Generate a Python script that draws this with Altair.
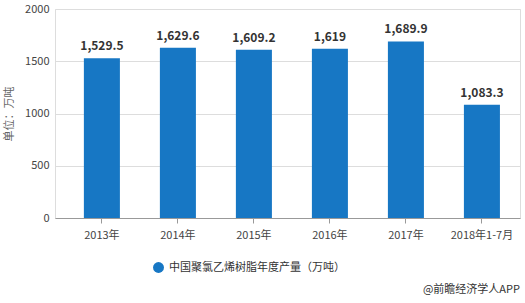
import altair as alt
import pandas as pd

categories = ["2013年", "2014年", "2015年", "2016年", "2017年", "2018年1-7月"]
values = [1529.5, 1629.6, 1609.2, 1619, 1689.9, 1083.3]
labels = ["1,529.5", "1,629.6", "1,609.2", "1,619", "1,689.9", "1,083.3"]
series_name = "中国聚氯乙烯树脂年度产量（万吨）"
source_text = "@前瞻经济学人APP"

df = pd.DataFrame({"cat": categories, "val": values, "lab": labels, "series": series_name})

FONT = "Noto Sans CJK SC"

base = alt.Chart(df)

xscale = alt.Scale(paddingInner=0.526, paddingOuter=0.322, align=0.59)

bars = base.mark_bar(color="#1777C4").encode(
    x=alt.X("cat:N", sort=categories, title=None, scale=xscale,
            axis=alt.Axis(labelAngle=0, labelColor="#444444", labelFontSize=11, labelFont=FONT,
                          domainColor="#999999", tickColor="#999999", tickSize=5, labelPadding=6)),
    y=alt.Y("val:Q", scale=alt.Scale(domain=[0, 2000]), title="单位：万吨",
            axis=alt.Axis(values=[0, 500, 1000, 1500, 2000], format="d", domain=False, ticks=False,
                          gridColor="#dddddd", labelColor="#444444", labelFontSize=11, labelFont=FONT,
                          titleColor="#666666", titleFontSize=11, titleFont=FONT, titleFontWeight="normal",
                          labelPadding=6, titlePadding=10)),
    color=alt.Color("series:N", scale=alt.Scale(range=["#1777C4"]), title=None,
                    legend=alt.Legend(orient="none", legendX=97, legendY=252, symbolType="circle",
                                      symbolSize=120, labelFontSize=11, labelFont=FONT,
                                      labelColor="#333333", labelLimit=400)),
)

text = base.mark_text(dy=-12, fontSize=12, fontWeight="bold", color="#333333", font=FONT).encode(
    x=alt.X("cat:N", sort=categories, scale=xscale),
    y="val:Q",
    text="lab:N",
)

src = alt.Chart(pd.DataFrame({"t": [source_text]})).mark_text(
    align="right", fontSize=11, color="#333333", font=FONT
).encode(x=alt.value(465), y=alt.value(281), text="t:N")

chart = alt.layer(bars, text, src).properties(
    width=465, height=209,
    autosize=alt.AutoSizeParams(type="none"),
    padding={"left": 55, "top": 9, "right": 5, "bottom": 85},
).configure_view(stroke=None).configure(background="white")

chart.save("out.html", embed_options={"renderer": "svg", "actions": False})
